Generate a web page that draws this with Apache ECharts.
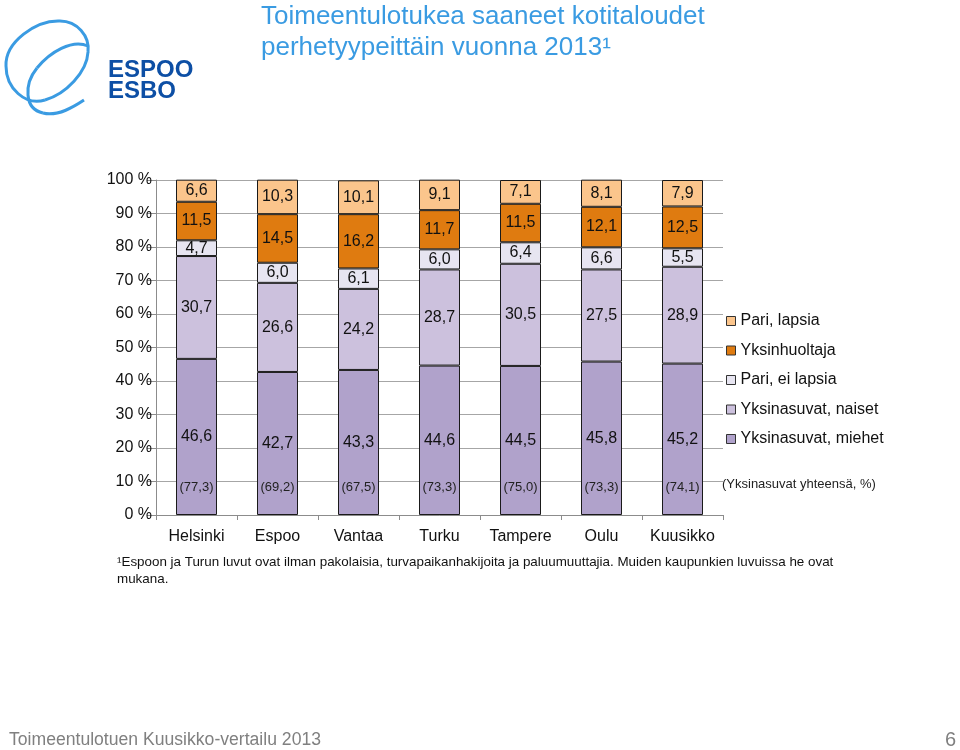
<!DOCTYPE html>
<html>
<head>
<meta charset="utf-8">
<script src="https://cdn.jsdelivr.net/npm/echarts@6/dist/echarts.min.js"></script>
<style>
html,body{margin:0;padding:0;background:#fff;}
#main{width:960px;height:750px;}
</style>
</head>
<body>
<div id="main"></div>
<script>
const categories = ['Helsinki', 'Espoo', 'Vantaa', 'Turku', 'Tampere', 'Oulu', 'Kuusikko'];
const yksinasuvatMiehet = [46.6, 42.7, 43.3, 44.6, 44.5, 45.8, 45.2];
const yksinasuvatNaiset = [30.7, 26.6, 24.2, 28.7, 30.5, 27.5, 28.9];
const pariEiLapsia = [4.7, 6.0, 6.1, 6.0, 6.4, 6.6, 5.5];
const yksinhuoltaja = [11.5, 14.5, 16.2, 11.7, 11.5, 12.1, 12.5];
const pariLapsia = [6.6, 10.3, 10.1, 9.1, 7.1, 8.1, 7.9];
const yksinasuvatYhteensa = [77.3, 69.2, 67.5, 73.3, 75.0, 73.3, 74.1];

const seriesNames = ['Yksinasuvat, miehet', 'Yksinasuvat, naiset', 'Pari, ei lapsia', 'Yksinhuoltaja', 'Pari, lapsia'];
const seriesData = [yksinasuvatMiehet, yksinasuvatNaiset, pariEiLapsia, yksinhuoltaja, pariLapsia];
const seriesColors = ['#B0A2CB', '#CCC1DD', '#E7E5F1', '#DF7B10', '#FBC58C'];
const totalName = '(Yksinasuvat yhteensä, %)';

const FONT = "'Liberation Sans', Arial, sans-serif";
const fmt = v => v.toFixed(1).replace('.', ',');

const chart = echarts.init(document.getElementById('main'), null, {renderer: 'canvas'});

const series = seriesNames.map((name, i) => ({
  name: name,
  type: 'bar',
  stack: 'total',
  barWidth: 41,
  data: seriesData[i],
  itemStyle: {color: seriesColors[i], borderColor: '#1a1a1a', borderWidth: 1},
  label: {
    show: true,
    position: 'inside',
    color: '#111',
    fontFamily: FONT,
    fontSize: 16,
    formatter: p => fmt(p.value)
  },
  emphasis: {disabled: true}
}));

series.push({
  name: totalName,
  type: 'bar',
  barWidth: 41,
  barGap: '-100%',
  data: yksinasuvatYhteensa,
  z: 5,
  itemStyle: {color: 'rgba(0,0,0,0)', borderWidth: 0},
  label: {
    show: true,
    position: 'insideBottom',
    distance: 21,
    color: '#222',
    fontFamily: FONT,
    fontSize: 13,
    formatter: p => '(' + fmt(p.value) + ')'
  },
  emphasis: {disabled: true}
});

const blue = '#3A9BE2';
const option = {
  animation: false,
  backgroundColor: '#fff',
  textStyle: {fontFamily: FONT},
  grid: {left: 156, right: 237, top: 180, bottom: 235, containLabel: false, outerBoundsMode: 'none'},
  legend: [
    {
      data: seriesNames.slice().reverse(),
      orient: 'vertical',
      left: 726,
      top: 313,
      padding: 0,
      itemWidth: 9,
      itemHeight: 9,
      itemGap: 13.5,
      icon: 'rect',
      selectedMode: false,
      itemStyle: {borderColor: '#333', borderWidth: 1},
      textStyle: {fontFamily: FONT, fontSize: 16, color: '#111', lineHeight: 16}
    },
    {
      data: [totalName],
      orient: 'vertical',
      left: 717,
      top: 477,
      padding: 0,
      itemWidth: 0,
      itemHeight: 0,
      selectedMode: false,
      textStyle: {fontFamily: FONT, fontSize: 13, color: '#222', lineHeight: 14}
    }
  ],
  xAxis: {
    type: 'category',
    data: categories,
    axisLine: {lineStyle: {color: '#8c8c8c', width: 1}},
    axisTick: {show: true, length: 5, lineStyle: {color: '#8c8c8c'}},
    axisLabel: {color: '#111', fontFamily: FONT, fontSize: 16, margin: 14, interval: 0}
  },
  yAxis: {
    type: 'value',
    min: 0,
    max: 100,
    interval: 10,
    axisLine: {show: true, lineStyle: {color: '#8c8c8c', width: 1}},
    axisTick: {show: true, length: 9, lineStyle: {color: '#8c8c8c'}},
    axisLabel: {color: '#111', fontFamily: FONT, fontSize: 16, margin: 4, formatter: '{value} %'},
    splitLine: {show: true, lineStyle: {color: '#a6a6a6', width: 1}}
  },
  series: series,
  graphic: [
    {type: 'text', left: 261, top: 1, style: {
      text: 'Toimeentulotukea saaneet kotitaloudet\nperhetyypeittäin vuonna 2013¹',
      font: "26px " + FONT, fill: blue, lineHeight: 31}},
    {type: 'text', left: 108, top: 58, style: {text: 'ESPOO', font: "bold 24px " + FONT, fill: '#0D4FA5'}},
    {type: 'text', left: 108, top: 79, style: {text: 'ESBO', font: "bold 24px " + FONT, fill: '#0D4FA5'}},
    {type: 'bezierCurve', shape: {x1: 60, y1: 21, x2: 88, y2: 52, cpx1: 77, cpy1: 21, cpx2: 90, cpy2: 36}, style: {stroke: blue, lineWidth: 3, fill: null}},
    {type: 'bezierCurve', shape: {x1: 88, y1: 52, x2: 45, y2: 100, cpx1: 87, cpy1: 72, cpx2: 66, cpy2: 94}, style: {stroke: blue, lineWidth: 3, fill: null}},
    {type: 'bezierCurve', shape: {x1: 45, y1: 100, x2: 6, y2: 66, cpx1: 25, cpy1: 106, cpx2: 6, cpy2: 88}, style: {stroke: blue, lineWidth: 3, fill: null}},
    {type: 'bezierCurve', shape: {x1: 6, y1: 66, x2: 60, y2: 21, cpx1: 5, cpy1: 42, cpx2: 36, cpy2: 20}, style: {stroke: blue, lineWidth: 3, fill: null}},
    {type: 'bezierCurve', shape: {x1: 88, y1: 46, x2: 37, y2: 68, cpx1: 72, cpy1: 39, cpx2: 50, cpy2: 52}, style: {stroke: blue, lineWidth: 3, fill: null}},
    {type: 'bezierCurve', shape: {x1: 37, y1: 68, x2: 43, y2: 113, cpx1: 24, cpy1: 84, cpx2: 24, cpy2: 109}, style: {stroke: blue, lineWidth: 3, fill: null}},
    {type: 'bezierCurve', shape: {x1: 43, y1: 113, x2: 84, y2: 100, cpx1: 58, cpy1: 117, cpx2: 75, cpy2: 106}, style: {stroke: blue, lineWidth: 3, fill: null}},
    {type: 'text', left: 117, top: 554, style: {
      text: '¹Espoon ja Turun luvut ovat ilman pakolaisia, turvapaikanhakijoita ja paluumuuttajia. Muiden kaupunkien luvuissa he ovat\nmukana.',
      font: "13.4px 'Liberation Sans Narrow', " + FONT, fill: '#111', lineHeight: 17}},
    {type: 'text', left: 9, top: 731, style: {text: 'Toimeentulotuen Kuusikko-vertailu 2013', font: "17.6px " + FONT, fill: '#808080'}},
    {type: 'text', right: 4, top: 730, style: {text: '6', font: "20px " + FONT, fill: '#808080'}}
  ]
};
chart.setOption(option);
</script>
</body>
</html>
